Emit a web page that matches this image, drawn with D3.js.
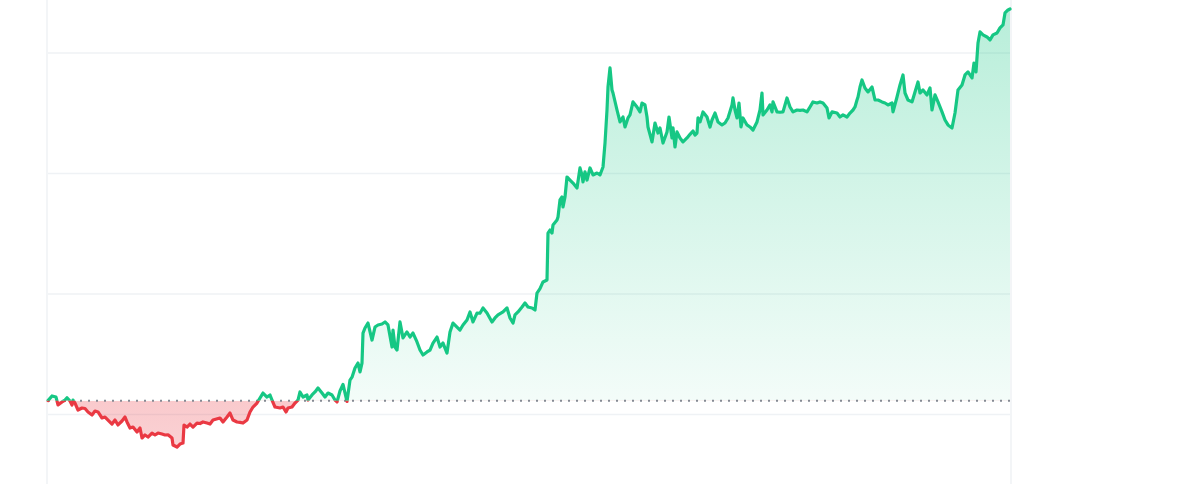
<!DOCTYPE html>
<html>
<head>
<meta charset="utf-8">
<script src="https://cdn.jsdelivr.net/npm/d3@7"></script>
<style>
  html, body { margin: 0; padding: 0; background: #ffffff; }
  svg { display: block; }
</style>
</head>
<body>
<svg id="chart" width="1200" height="484"></svg>
<script>
// Days since start of period
const days = [
  0,4,8,10,14,17,19,22,24,25,
  27,30,34,37,40,44,47,50,54,57,
  60,64,67,70,74,77,79,82,85,89,
  92,94,97,100,104,107,110,114,117,120,
  124,125,129,132,135,136,139,142,145,149,
  152,155,159,162,165,172,175,179,182,185,
  189,192,195,199,202,205,209,212,215,219,
  222,224,227,232,235,238,240,244,247,250,
  252,255,259,260,264,267,270,274,277,280,
  284,287,289,292,295,299,302,304,307,310,
  312,314,315,317,320,324,327,330,334,337,
  340,344,345,347,349,352,355,359,362,365,
  369,372,375,379,382,385,389,392,395,399,
  402,405,409,412,415,419,422,425,429,432,
  435,439,444,447,450,455,459,462,465,467,
  470,474,477,480,484,487,489,492,495,499,
  500,502,504,505,509,510,512,514,515,517,
  519,522,525,529,532,534,535,537,539,542,
  545,549,552,555,557,559,560,562,564,565,
  569,572,575,577,580,582,585,589,592,594,
  597,599,600,604,607,610,612,615,619,621,
  624,625,627,629,632,635,639,642,645,647,
  649,650,652,655,659,662,664,667,670,674,
  677,680,684,685,687,689,691,693,695,699,
  702,705,709,712,714,715,719,722,724,725,
  729,732,735,739,742,745,749,752,755,759,
  762,765,769,772,775,779,781,784,789,792,
  795,799,802,805,807,809,810,812,814,817,
  820,824,827,830,834,837,840,844,845,849,
  852,855,857,860,864,867,870,872,875,879,
  882,884,887,890,894,897,900,904,907,910,
  914,917,920,924,926,928,930,932,935,939,
  942,945,949,952,955,957,960,962
];

// Price series
const prices = [
  111.5,115.4,114.5,107.9,110.4,112.0,113.9,111.2,107.9,112.0,
  109.5,103.7,105.4,105.0,102.1,99.6,102.9,102.1,97.1,97.9,
  95.4,92.1,95.4,91.3,94.6,97.9,93.8,88.8,89.6,85.5,
  88.8,80.5,83.0,81.3,84.6,83.0,84.6,83.8,83.0,83.2,
  80.5,74.7,73.0,75.5,76.3,91.3,89.6,92.1,89.6,92.9,
  92.5,93.8,92.9,92.1,95.4,97.1,93.8,97.9,101.2,95.4,
  93.8,93.5,92.9,95.4,102.1,106.2,109.5,113.7,117.8,114.5,
  116.2,112.0,106.2,105.4,106.2,102.1,105.4,106.2,109.5,112.0,
  118.7,114.5,116.2,112.0,116.2,118.7,122.0,117.8,114.5,117.8,
  116.2,112.0,110.4,119.5,125.0,110.8,128.6,131.0,138.6,142.7,
  135.3,142.7,167.6,171.8,175.9,161.8,172.6,174.3,175.1,176.8,
  174.3,156.0,170.1,156.0,153.5,176.8,163.5,168.5,164.3,167.6,
  160.2,153.5,149.4,151.9,153.5,159.3,164.3,156.0,159.3,151.0,
  168.5,175.9,172.6,170.1,174.3,178.4,185.1,176.8,184.2,184.0,
  188.4,184.2,176.8,180.1,182.6,185.1,188.4,180.1,175.9,182.6,
  185.1,189.2,192.5,189.2,188.4,186.7,200.8,204.5,210.0,211.6,
  250.6,253.1,250.6,257.3,261.4,263.9,278.0,280.5,272.2,280.5,
  297.1,294.6,292.1,288.0,304.6,298.8,293.0,301.3,294.6,304.6,
  298.8,300.4,298.8,305.4,325.3,352.7,371.8,387.6,369.3,366.8,
  352.7,342.8,346.9,338.6,346.1,348.6,359.4,355.2,351.1,358.5,
  356.9,346.9,338.6,326.2,341.9,333.6,337.8,325.3,334.5,346.9,
  329.5,337.8,322.0,334.5,329.5,326.2,329.5,332.5,335.3,331.9,
  333.6,346.1,342.8,351.1,346.9,338.6,344.4,350.2,342.8,340.3,
  341.9,346.1,356.9,362.7,352.7,346.1,358.5,338.6,346.1,340.3,
  338.6,336.1,342.8,352.7,366.8,348.6,352.7,356.9,351.1,359.4,
  351.1,350.8,351.1,362.7,355.2,351.1,352.7,352.4,352.7,351.1,
  355.2,359.4,358.5,359.4,358.5,354.4,346.1,351.1,350.2,346.9,
  348.6,346.9,350.2,352.7,355.2,361.0,363.5,371.8,377.6,371.0,
  367.7,371.8,361.0,361.0,359.4,358.5,356.9,358.5,351.1,363.5,
  373.5,381.8,366.8,361.0,359.4,367.7,376.0,366.8,369.3,365.2,
  371.0,352.7,365.2,359.4,351.1,344.4,340.3,337.8,350.2,369.3,
  373.5,381.8,384.3,379.3,391.7,384.3,408.3,417.5,415.0,413.3,
  410.8,415.0,416.6,420.8,423.3,433.2,435.7,436.5
];

// Gridline tick values
const gridTicks = [100, 200, 300, 400];

const W = 1200, H = 484;
const GREEN = "#16c784", RED = "#ea3943";

const data = days.map((d, i) => ({ d, v: prices[i] }));
const startValue = prices[0];

const x = d3.scaleLinear().domain([0, d3.max(days)]).range([48, 1010]);
const y = d3.scaleLinear().domain([100, 400]).range([414.5, 53]);

const svg = d3.select("#chart");
const defs = svg.append("defs");

const baseY = y(startValue);

// gradients
const gG = defs.append("linearGradient").attr("id", "gGreen")
  .attr("gradientUnits", "userSpaceOnUse")
  .attr("x1", 0).attr("x2", 0).attr("y1", 0).attr("y2", baseY);
gG.append("stop").attr("offset", "0%").attr("stop-color", GREEN).attr("stop-opacity", 0.31);
gG.append("stop").attr("offset", "100%").attr("stop-color", GREEN).attr("stop-opacity", 0.05);

const gR = defs.append("linearGradient").attr("id", "gRed")
  .attr("gradientUnits", "userSpaceOnUse")
  .attr("x1", 0).attr("x2", 0).attr("y1", baseY).attr("y2", H);
gR.append("stop").attr("offset", "0%").attr("stop-color", RED).attr("stop-opacity", 0.27);
gR.append("stop").attr("offset", "100%").attr("stop-color", RED).attr("stop-opacity", 0.2);

defs.append("clipPath").attr("id", "clipAbove")
  .append("rect").attr("x", 0).attr("y", -10).attr("width", W).attr("height", baseY + 10);
defs.append("clipPath").attr("id", "clipBelow")
  .append("rect").attr("x", 0).attr("y", baseY).attr("width", W).attr("height", H - baseY + 10);

// grid
const grid = svg.append("g");
grid.selectAll("line.h").data(gridTicks).join("line")
  .attr("class", "h")
  .attr("x1", 48).attr("x2", 1010)
  .attr("y1", d => y(d)).attr("y2", d => y(d))
  .attr("stroke", "#eff2f5").attr("stroke-width", 1.5);
grid.selectAll("line.v").data([x.range()[0] - 1, x.range()[1] + 1]).join("line")
  .attr("class", "v")
  .attr("x1", d => d).attr("x2", d => d)
  .attr("y1", 0).attr("y2", H)
  .attr("stroke", "#eff2f5").attr("stroke-width", 1.5);

// areas
const area = d3.area().x(d => x(d.d)).y0(baseY).y1(d => y(d.v));
svg.append("path").datum(data).attr("d", area)
  .attr("fill", "url(#gGreen)").attr("clip-path", "url(#clipAbove)");
svg.append("path").datum(data).attr("d", area)
  .attr("fill", "url(#gRed)").attr("clip-path", "url(#clipBelow)");

// baseline dotted
svg.append("line")
  .attr("x1", x.range()[0]).attr("x2", x.range()[1])
  .attr("y1", baseY).attr("y2", baseY)
  .attr("stroke", "#858a94").attr("stroke-width", 2)
  .attr("stroke-dasharray", "2,6");

// lines
const line = d3.line().x(d => x(d.d)).y(d => y(d.v));
svg.append("path").datum(data).attr("d", line)
  .attr("fill", "none").attr("stroke", GREEN).attr("stroke-width", 3.2)
  .attr("stroke-linejoin", "round").attr("stroke-linecap", "round")
  .attr("clip-path", "url(#clipAbove)");
svg.append("path").datum(data).attr("d", line)
  .attr("fill", "none").attr("stroke", RED).attr("stroke-width", 3.2)
  .attr("stroke-linejoin", "round").attr("stroke-linecap", "round")
  .attr("clip-path", "url(#clipBelow)");
</script>
</body>
</html>
